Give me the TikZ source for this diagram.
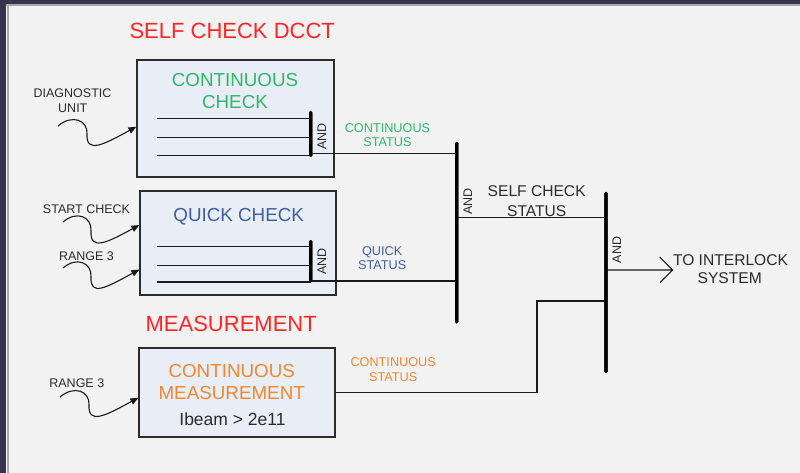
\documentclass[tikz,border=0pt]{standalone}
\usepackage{fontspec}
\setmainfont{Liberation Sans}
\usetikzlibrary{arrows.meta}

\definecolor{bg}{HTML}{F2F2F2}
\definecolor{frame}{HTML}{37334F}
\definecolor{frameline}{HTML}{A8A8A8}
\definecolor{boxfill}{HTML}{E8EDF6}
\definecolor{ink}{HTML}{2B2B2B}
\definecolor{wirec}{HTML}{1A1A1A}
\definecolor{titlered}{HTML}{FF2424}
\definecolor{okgreen}{HTML}{2EB868}
\definecolor{qblue}{HTML}{3F5F9E}
\definecolor{morange}{HTML}{F0872E}

\newcommand{\fs}[1]{\fontsize{#1}{#1}\selectfont}

\begin{document}
\begin{tikzpicture}[x=1pt, y=-1pt,
  txt/.style={anchor=base, inner sep=0pt, outer sep=0pt},
  title/.style={txt, font=\fs{22}, text=titlered},
  boxtitle/.style={txt, font=\fs{18.8}},
  status/.style={txt, font=\fs{12.7}},
  lbl/.style={txt, font=\fs{12.5}, text=ink},
  sctxt/.style={txt, font=\fs{15.6}, text=ink},
  andlbl/.style={inner sep=0pt, rotate=90, font=\fs{12.5}, text=ink},
  block/.style={draw=ink, fill=boxfill, line width=1.2pt, inner sep=0pt},
  bar/.style={fill=black, draw=none, inner sep=0pt, minimum width=3.3pt, rounded corners=1.4pt},
  wire/.style={draw=wirec, line width=1.1pt},
  squig/.style={draw=wirec, line width=1.1pt, -{Triangle[length=8pt,width=6.5pt]}}
]
% background and window frame
\fill[bg] (0,0) rectangle (800,473);
\useasboundingbox (0,0) rectangle (800,473);
\fill[frame] (0,0) rectangle (800,4);
\fill[frame] (0,0) rectangle (6,473);
\fill[frameline] (6,4) rectangle (800,6);
\fill[white] (6,6) rectangle (7,473);
\fill[frameline] (7,6) rectangle (9,473);

% section titles
\node[title] (ttl1) at (232.2,38.7) {SELF CHECK DCCT};
\node[title] (ttl2) at (231.2,331) {MEASUREMENT};

% blocks
\node[block, minimum width=197pt, minimum height=117pt] (cc) at (235.5,118.5) {};
\node[block, minimum width=196pt, minimum height=104pt] (qc) at (238,243) {};
\node[block, minimum width=196pt, minimum height=89pt] (cm) at (237,392.5) {};

\node[boxtitle, text=okgreen] (cc1) at (235,86.7) {CONTINUOUS};
\node[boxtitle, text=okgreen] (cc2) at (235,109) {CHECK};
\node[boxtitle, text=qblue] (qc1) at (238.7,222) {QUICK CHECK};
\node[boxtitle, text=morange] (cm1) at (231.7,377.7) {CONTINUOUS};
\node[boxtitle, text=morange] (cm2) at (231.7,399.7) {MEASUREMENT};
\node[txt, font=\fs{17.5}, text=ink] (cm3) at (232.5,425.3) {Ibeam > 2e11};

% AND gates (bars)
\node[bar, minimum height=46pt] (g1) at (310.7,134) {};
\node[bar, minimum height=42pt] (g2) at (310.7,261) {};
\node[bar, minimum height=181.5pt] (G1) at (456.7,232.7) {};
\node[bar, minimum height=181pt] (G2) at (606,282.5) {};

\node[andlbl] (a1) at (321.7,136.3) {AND};
\node[andlbl] (a2) at (321.7,261.7) {AND};
\node[andlbl] (a3) at (467.7,201.3) {AND};
\node[andlbl] (a4) at (616.7,250) {AND};

% inputs inside the check blocks
\foreach \yy in {118.3,137.3,155.3}
  \draw[wire] (156.7,\yy) -- (g1.center |- 0,\yy);
\foreach \yy in {246.7,265.7,282}
  \draw[wire] (156.7,\yy) -- (g2.center |- 0,\yy);

% status connections
\draw[wire] (g1.center |- 0,153.5) -- (G1.center |- 0,153.5);
\draw[wire] (g2.center |- 0,281) -- (G1.center |- 0,281);
\draw[wire] (G1.center |- 0,217.7) -- (G2.center |- 0,217.7);
\draw[wire] (cm.east) -| (537,301) -- (G2.center |- 0,301);
% output to the interlock, open chevron head
\coordinate (ilk) at (672.7,270);
\draw[wire, line join=miter] (G2.center |- ilk) -- (ilk) ++(-13,-13) -- (ilk) -- ++(-12.5,12.5);

% redraw bars over wire ends
\node[bar, minimum height=46pt] at (g1) {};
\node[bar, minimum height=42pt] at (g2) {};
\node[bar, minimum height=181.5pt] at (G1) {};
\node[bar, minimum height=181pt] at (G2) {};

% status labels
\node[status, text=okgreen] (cs1) at (387.5,132.3) {CONTINUOUS};
\node[status, text=okgreen] (cs2) at (387.5,146.7) {STATUS};
\node[status, text=qblue] (qs1) at (382.2,255) {QUICK};
\node[status, text=qblue] (qs2) at (382.2,269.3) {STATUS};
\node[status, text=morange] (ms1) at (393.2,366.7) {CONTINUOUS};
\node[status, text=morange] (ms2) at (393.2,381.7) {STATUS};
\node[sctxt] (sc1) at (536.7,196.7) {SELF CHECK};
\node[sctxt] (sc2) at (536.7,216) {STATUS};
\node[sctxt] (to1) at (730.5,265) {TO INTERLOCK};
\node[sctxt] (to2) at (729.7,283.7) {SYSTEM};

% input labels
\node[lbl] (du1) at (72.5,97.3) {DIAGNOSTIC};
\node[lbl] (du2) at (72.8,112.7) {UNIT};
\node[lbl] (st) at (86.5,214) {START CHECK};
\node[lbl] (r1) at (86.5,260) {RANGE 3};
\node[lbl] (r2) at (76.8,387.7) {RANGE 3};

% wavy input arrows
\coordinate (s1) at (58,126);
\coordinate (s2) at (63,222);
\coordinate (s3) at (63,268);
\coordinate (s4) at (60,397);
\draw[squig] (s1) .. controls +(14,-12) and +(1,-14) .. ++(29,8)
  .. controls +(-1,20) and +(-33,18) .. (cc.west |- 0,126.7);
\draw[squig] (s2) .. controls +(14,-12) and +(1,-14) .. ++(28,9)
  .. controls +(-1,20) and +(-33,18) .. (qc.west |- 0,225);
\draw[squig] (s3) .. controls +(14,-12) and +(1,-14) .. ++(28,9)
  .. controls +(-1,20) and +(-33,18) .. (qc.west |- 0,269.5);
\draw[squig] (s4) .. controls +(14,-12) and +(1,-14) .. ++(29,8)
  .. controls +(-1,20) and +(-33,18) .. (cm.west |- 0,397.7);
\end{tikzpicture}
\end{document}
